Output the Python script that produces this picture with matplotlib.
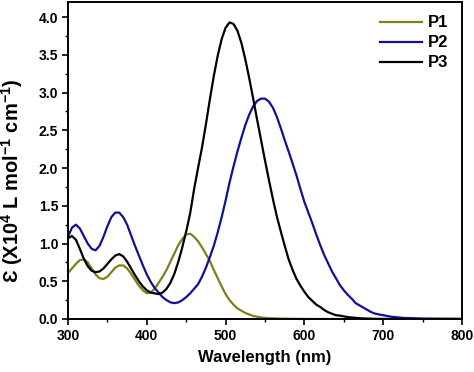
import matplotlib.pyplot as plt
from matplotlib.ticker import MultipleLocator

plt.rcParams['font.family'] = ['Liberation Sans', 'DejaVu Sans']
plt.rcParams['mathtext.fontset'] = 'custom'
plt.rcParams['mathtext.rm'] = 'Liberation Sans'
plt.rcParams['mathtext.bf'] = 'Liberation Sans:bold'

# wavelength grid (nm), shared by all three spectra
wavelength = list(range(300, 705, 5)) + [710, 725, 750, 800]

# P1 - olive
p1 = [0.61, 0.67, 0.73, 0.78, 0.79, 0.75, 0.67, 0.59, 0.54, 0.53,
      0.56, 0.62, 0.68, 0.71, 0.71, 0.67, 0.60, 0.52, 0.44, 0.38,
      0.34, 0.35, 0.40, 0.48, 0.56, 0.65, 0.76, 0.87, 0.98, 1.06,
      1.12, 1.13, 1.09, 1.03, 0.95, 0.86, 0.77, 0.65, 0.54, 0.43,
      0.33, 0.25, 0.19, 0.14, 0.11, 0.08, 0.06, 0.04, 0.03, 0.02,
      0.015, 0.01, 0.01, 0.007, 0.005, 0.004, 0.003, 0.002, 0.002, 0.001,
      0.001, 0.0, 0.0, 0.0, 0.0, 0.0, 0.0, 0.0, 0.0, 0.0,
      0.0, 0.0, 0.0, 0.0, 0.0, 0.0, 0.0, 0.0, 0.0, 0.0,
      0.0, 0.0, 0.0, 0.0, 0.0]

# P2 - blue
p2 = [1.09, 1.21, 1.25, 1.20, 1.10, 1.00, 0.93, 0.91, 0.97, 1.09,
      1.23, 1.35, 1.41, 1.41, 1.35, 1.25, 1.11, 0.97, 0.84, 0.71,
      0.59, 0.49, 0.41, 0.35, 0.29, 0.25, 0.22, 0.21, 0.22, 0.25,
      0.29, 0.34, 0.40, 0.46, 0.56, 0.68, 0.82, 0.97, 1.15, 1.35,
      1.57, 1.81, 2.02, 2.22, 2.40, 2.57, 2.71, 2.82, 2.89, 2.92,
      2.92, 2.88, 2.80, 2.68, 2.53, 2.37, 2.22, 2.06, 1.90, 1.72,
      1.55, 1.41, 1.27, 1.12, 0.98, 0.85, 0.74, 0.63, 0.54, 0.45,
      0.38, 0.32, 0.27, 0.21, 0.18, 0.15, 0.12, 0.09, 0.07, 0.06,
      0.05, 0.03, 0.015, 0.005, 0.0]

# P3 - black
p3 = [1.07, 1.10, 1.05, 0.93, 0.80, 0.70, 0.64, 0.62, 0.63, 0.67,
      0.73, 0.79, 0.84, 0.86, 0.83, 0.76, 0.67, 0.58, 0.50, 0.43,
      0.38, 0.35, 0.34, 0.33, 0.35, 0.40, 0.48, 0.60, 0.76, 0.95,
      1.16, 1.40, 1.72, 2.00, 2.27, 2.58, 2.91, 3.22, 3.49, 3.71,
      3.86, 3.93, 3.91, 3.82, 3.66, 3.44, 3.19, 2.92, 2.64, 2.37,
      2.10, 1.84, 1.59, 1.36, 1.16, 0.97, 0.79, 0.65, 0.53, 0.44,
      0.36, 0.29, 0.24, 0.19, 0.16, 0.12, 0.09, 0.07, 0.05, 0.045,
      0.035, 0.025, 0.02, 0.015, 0.01, 0.007, 0.005, 0.003, 0.002, 0.001,
      0.0, 0.0, 0.0, 0.0, 0.0]

names = ['P1', 'P2', 'P3']
colors = ['#80801a', '#10109a', '#000000']

fig = plt.figure(figsize=(4.74, 3.72), dpi=100)
ax = fig.add_axes([0.1435, 0.1425, 0.8312, 0.852])

for y, name, c in zip([p1, p2, p3], names, colors):
    ax.plot(wavelength, y, color=c, lw=1.6, label=name)

ax.set_xlim(300, 800)
ax.set_ylim(0, 4.2)
ax.xaxis.set_major_locator(MultipleLocator(100))
ax.xaxis.set_minor_locator(MultipleLocator(50))
ax.yaxis.set_major_locator(MultipleLocator(0.5))
ax.yaxis.set_minor_locator(MultipleLocator(0.25))
ax.yaxis.set_major_formatter(plt.FormatStrFormatter('%.1f'))

ax.tick_params(which='major', direction='out', length=4, width=1.2, labelsize=10, pad=3)
ax.tick_params(which='minor', direction='out', length=2.5, width=1.0)
for lab in ax.get_xticklabels() + ax.get_yticklabels():
    lab.set_fontweight('bold')
for s in ax.spines.values():
    s.set_linewidth(1.4)

ax.set_xlabel('Wavelength (nm)', fontsize=12, fontweight='bold', labelpad=5)
ax.set_ylabel('Ɛ (X10$^\\mathbf{4}$ L mol$^\\mathbf{-1}$ cm$^\\mathbf{-1}$)',
              fontsize=14.5, fontweight='bold')
ax.yaxis.set_label_coords(-0.11, 0.435)

leg = ax.legend(loc='upper right', frameon=False, fontsize=12,
                handlelength=2.5, handletextpad=0.4, labelspacing=0.3,
                borderaxespad=0.4)
for t in leg.get_texts():
    t.set_fontweight('bold')

plt.savefig('out.png', dpi=100)
